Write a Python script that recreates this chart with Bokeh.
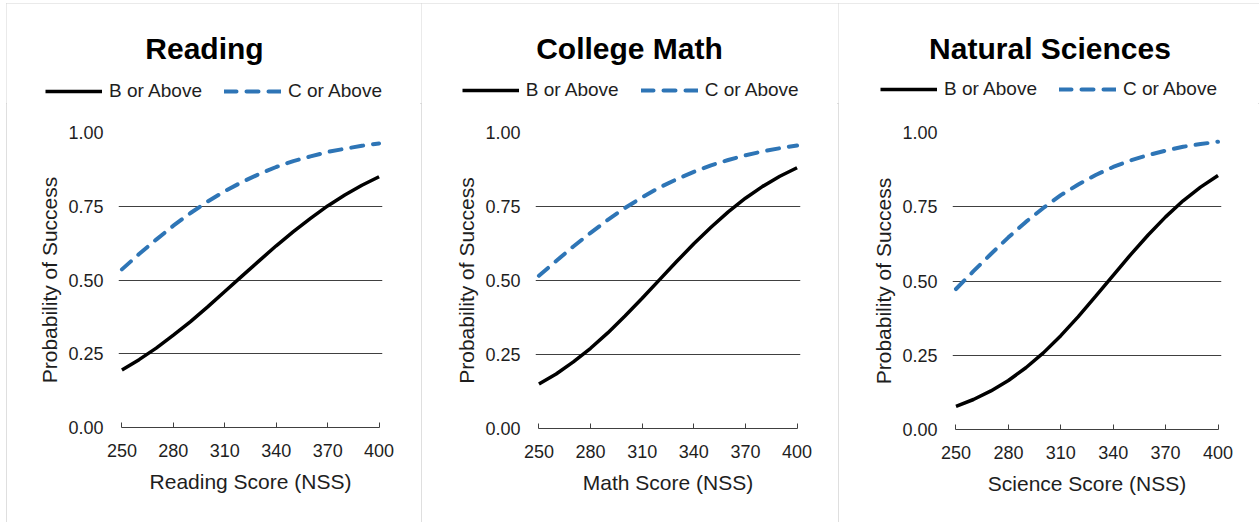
from bokeh.plotting import figure
from bokeh.models import (Label, Legend, LegendItem, FixedTicker, Range1d,
                          NumeralTickFormatter, Spacer)
from bokeh.layouts import row, column
from bokeh.embed import file_html
from bokeh.resources import INLINE

# ---------------- data ----------------
SCORES = [250, 260, 270, 280, 290, 300, 310, 320, 330, 340, 350, 360, 370, 380, 390, 400]
X_TICKS = [250, 280, 310, 340, 370, 400]
Y_TICKS = [0.0, 0.25, 0.50, 0.75, 1.00]
SERIES_NAMES = ["B or Above", "C or Above"]
TITLES = ["Reading", "College Math", "Natural Sciences"]
X_LABELS = ["Reading Score (NSS)", "Math Score (NSS)", "Science Score (NSS)"]
Y_LABEL = "Probability of Success"

READING_B = [0.195, 0.230, 0.269, 0.313, 0.359, 0.409, 0.461, 0.513, 0.565, 0.616, 0.664, 0.709, 0.751, 0.788, 0.821, 0.850]
READING_C = [0.536, 0.588, 0.637, 0.684, 0.727, 0.766, 0.801, 0.832, 0.859, 0.883, 0.903, 0.919, 0.934, 0.945, 0.955, 0.963]
MATH_B = [0.150, 0.184, 0.225, 0.271, 0.323, 0.380, 0.440, 0.502, 0.564, 0.624, 0.680, 0.732, 0.778, 0.818, 0.852, 0.881]
MATH_C = [0.516, 0.566, 0.615, 0.661, 0.705, 0.745, 0.781, 0.814, 0.842, 0.867, 0.889, 0.907, 0.923, 0.936, 0.947, 0.956]
SCIENCE_B = [0.078, 0.101, 0.130, 0.165, 0.208, 0.258, 0.316, 0.380, 0.449, 0.519, 0.589, 0.655, 0.716, 0.770, 0.816, 0.855]
SCIENCE_C = [0.473, 0.533, 0.591, 0.647, 0.699, 0.746, 0.789, 0.825, 0.857, 0.884, 0.906, 0.924, 0.939, 0.952, 0.961, 0.969]

PANEL_SERIES = [(READING_B, READING_C), (MATH_B, MATH_C), (SCIENCE_B, SCIENCE_C)]

# ---------------- layout / style ----------------
FONT = "Liberation Sans"
TEXT = "#1e1e1e"
GRID = "#404040"
BLUE = "#2E75B6"
BORDER = "#d4d4d4"
TOP_GAP = 3          # white strip above the panels
LEFT_GAP = 6         # white strip left of the first panel
PAGE_H = 522
HEADER_H = 100       # title + legend strip of each panel
PANEL_TOP = TOP_GAP
HEADER_BOTTOM = PANEL_TOP + HEADER_H

B_STYLE = dict(line_color="black", line_width=3.5)
C_STYLE = dict(line_color=BLUE, line_width=4, line_dash="12 10", line_cap="round")

# page pixel positions measured on the reference
LAYOUT = [
    dict(left=6, right=421, x250=121.7, x400=379.0, y1=132.3, y0=426.7,
         title_x=204, title_base=48, leg_x=45, leg_y=90.7),
    dict(left=421, right=838, x250=538.3, x400=796.7, y1=132.3, y0=427.7,
         title_x=629, title_base=48, leg_x=461.7, leg_y=90.0),
    dict(left=838, right=1259, x250=955.7, x400=1217.3, y1=131.7, y0=429.0,
         title_x=1049.5, title_base=48, leg_x=880, leg_y=89.3),
]
XPAD = 2.0
LEG_H = 22
LABEL_W = 98


def make_header(i, L):
    b_vals, c_vals = PANEL_SERIES[i]
    w = L["right"] - L["left"]
    hp = figure(width=w, height=HEADER_H, title=None, output_backend="svg",
                toolbar_location=None, x_range=Range1d(0, w), y_range=Range1d(0, HEADER_H),
                x_axis_location=None, y_axis_location=None, min_border=0)
    hp.frame_align = False
    hp.grid.visible = False
    hp.outline_line_color = None
    hp.background_fill_color = "white"
    hp.border_fill_color = "white"

    hp.add_layout(Label(x=L["title_x"] - L["left"], y=HEADER_BOTTOM - L["title_base"],
                        x_units="screen", y_units="screen", text=TITLES[i],
                        text_font=FONT, text_font_size="30px", text_font_style="bold",
                        text_color="black", text_align="center",
                        text_baseline="alphabetic"))

    # legend keys: the series drawn on a range that lies outside this strip
    hp.extra_x_ranges = {"key": Range1d(-1000, -900)}
    rb = hp.line(SCORES, b_vals, x_range_name="key", **B_STYLE)
    rc = hp.line(SCORES, c_vals, x_range_name="key", **C_STYLE)
    legend = Legend(items=[LegendItem(label=SERIES_NAMES[0], renderers=[rb]),
                           LegendItem(label=SERIES_NAMES[1], renderers=[rc])],
                    orientation="horizontal",
                    location=(L["leg_x"] - L["left"], HEADER_BOTTOM - L["leg_y"] - LEG_H / 2),
                    glyph_width=57, glyph_height=LEG_H, label_height=LEG_H,
                    label_standoff=7, spacing=17, padding=0, margin=0,
                    label_width=LABEL_W,
                    label_text_font=FONT, label_text_font_size="19px",
                    label_text_color=TEXT, label_text_baseline="middle",
                    border_line_color=None, background_fill_alpha=0)
    hp.add_layout(legend)
    return hp


def make_plot(i, L):
    b_vals, c_vals = PANEL_SERIES[i]
    ppu = (L["x400"] - L["x250"]) / (X_TICKS[-1] - X_TICKS[0])
    frame_left = L["x250"] - XPAD * ppu
    frame_right = L["x400"] + XPAD * ppu
    w = L["right"] - L["left"]
    h = PAGE_H - HEADER_BOTTOM
    mb_left = round(frame_left - L["left"])
    mb_right = round(L["right"] - frame_right)
    mb_top = round(L["y1"] - HEADER_BOTTOM)
    mb_bottom = round(PAGE_H - L["y0"])

    p = figure(width=w, height=h, title=None, output_backend="svg", toolbar_location=None,
               x_range=Range1d(X_TICKS[0] - XPAD, X_TICKS[-1] + XPAD),
               y_range=Range1d(0, 1),
               min_border_left=mb_left, min_border_right=mb_right,
               min_border_top=mb_top, min_border_bottom=mb_bottom)
    p.frame_align = False
    p.outline_line_color = None
    p.background_fill_color = "white"
    p.border_fill_color = "white"

    # x axis
    xa = p.xaxis[0]
    xa.ticker = FixedTicker(ticks=X_TICKS)
    xa.bounds = (X_TICKS[0], X_TICKS[-1])
    xa.axis_line_color = GRID
    xa.axis_line_width = 1
    xa.major_tick_line_color = GRID
    xa.major_tick_in = 5
    xa.major_tick_out = 0
    xa.minor_tick_line_color = None
    xa.major_label_text_font = FONT
    xa.major_label_text_font_size = "18px"
    xa.major_label_text_color = TEXT
    xa.major_label_standoff = 16
    xa.axis_label = X_LABELS[i]
    xa.axis_label_text_font = FONT
    xa.axis_label_text_font_size = "21px"
    xa.axis_label_text_font_style = "normal"
    xa.axis_label_text_color = TEXT
    xa.axis_label_standoff = 10

    # y axis
    ya = p.yaxis[0]
    ya.ticker = FixedTicker(ticks=Y_TICKS)
    ya.formatter = NumeralTickFormatter(format="0.00")
    ya.axis_line_color = None
    ya.major_tick_line_color = None
    ya.minor_tick_line_color = None
    ya.major_tick_in = 0
    ya.major_tick_out = 0
    ya.major_label_text_font = FONT
    ya.major_label_text_font_size = "18px"
    ya.major_label_text_color = TEXT
    ya.major_label_standoff = round(frame_left - (L["x250"] - 18))
    ya.axis_label = Y_LABEL
    ya.axis_label_text_font = FONT
    ya.axis_label_text_font_size = "21px"
    ya.axis_label_text_font_style = "normal"
    ya.axis_label_text_color = TEXT
    ya.axis_label_standoff = 4

    # grid
    p.xgrid.grid_line_color = None
    p.ygrid.ticker = FixedTicker(ticks=Y_TICKS[1:])
    p.ygrid.bounds = (X_TICKS[0], X_TICKS[-1])
    p.ygrid.grid_line_color = GRID
    p.ygrid.grid_line_width = 1

    # series
    p.line(SCORES, b_vals, **B_STYLE)
    p.line(SCORES, c_vals, **C_STYLE)
    return p


panels = []
for i, L in enumerate(LAYOUT):
    col = column(make_header(i, L), make_plot(i, L), spacing=0)
    col.styles = {"outline": "1px solid " + BORDER, "outline-offset": "-1px"}
    panels.append(col)

layout = column(Spacer(height=TOP_GAP, width=1259),
                row(Spacer(width=LEFT_GAP, height=PAGE_H - TOP_GAP), *panels, spacing=0),
                spacing=0)
open("out.html", "w").write(file_html(layout, INLINE))
